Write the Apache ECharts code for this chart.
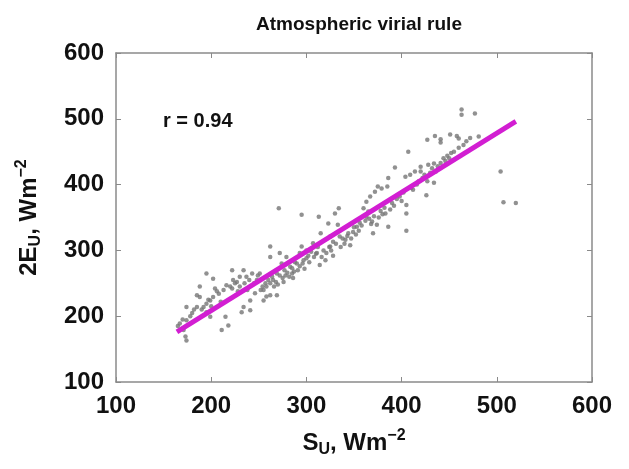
<!DOCTYPE html>
<html>
<head>
<meta charset="utf-8">
<script src="https://cdn.jsdelivr.net/npm/echarts@6/dist/echarts.min.js"></script>
<style>html,body{margin:0;padding:0;background:#fff}#c{width:629px;height:469px}</style>
</head>
<body>
<div id="c"></div>
<script>
// Scatter data: S_U (x) and 2E_U (y), W m^-2
const suX = [165,167,170,171,173,174,174,174,178,180,182,185,185,188,188,190,192,195,195,195,197,199,199,200,
202,202,204,206,208,210,211,213,215,216,218,220,222,222,223,225,227,228,230,230,232,234,234,235,237,238,240,241,241,
243,245,246,248,249,251,252,254,255,255,257,258,258,260,262,262,262,262,264,265,266,268,269,269,270,271,272,272,274,275,276,277,278,279,280,
282,283,285,285,286,287,288,290,291,293,293,295,295,296,297,298,300,300,302,303,305,307,308,310,311,312,313,314,315,316,318,320,
321,323,324,325,325,326,328,328,330,331,333,334,335,336,338,340,341,343,344,346,347,349,350,352,353,355,356,358,360,
362,363,363,365,366,367,368,369,370,371,372,374,375,376,378,379,380,382,383,385,386,386,388,390,392,393,395,398,400,
402,404,405,405,405,407,409,410,412,414,416,418,420,420,422,424,426,427,427,428,430,432,434,434,435,436,438,441,441,441,
444,446,448,450,451,452,455,458,460,460,463,463,465,468,472,477,481,504,507,520];
const eu2Y = [185,189,195,179,169,163,194,214,200,205,210,214,232,229,245,210,214,206,219,265,225,199,224,215,
229,257,242,238,234,222,179,240,199,247,186,245,242,270,255,250,252,238,260,245,206,214,270,250,260,240,255,209,224,
265,250,235,255,262,265,240,245,224,240,250,230,245,255,232,250,290,306,260,255,245,252,232,265,248,364,296,262,280,258,252,270,262,290,266,
260,275,265,273,258,268,282,280,270,296,276,354,306,280,285,272,300,288,292,282,298,311,290,295,296,305,351,278,326,290,300,285,
296,341,305,321,306,300,313,292,356,310,339,364,321,305,318,310,316,322,326,308,318,328,335,324,336,330,342,338,364,
345,374,351,359,348,382,340,344,326,352,389,339,397,350,360,394,355,365,356,397,336,410,362,372,368,426,378,382,375,
388,412,369,356,330,450,415,395,392,420,400,405,427,420,410,415,384,405,468,430,418,425,432,403,474,420,428,469,464,433,
440,436,444,440,476,448,450,474,470,456,514,506,460,466,471,508,473,420,373,372];
// Fitted line end points
const fitX = [164, 520];
const fitY = [176, 496];
const xTicks = [100, 200, 300, 400, 500, 600];
const yTicks = [100, 200, 300, 400, 500, 600];

const pts = suX.map((x, i) => [x, eu2Y[i]]);
const fit = fitX.map((x, i) => [x, fitY[i]]);

const FF = 'Liberation Sans, Arial, sans-serif';
const lab = {fontFamily: FF, fontWeight: 'bold', fontSize: 24, color: '#111'};
const axisLine = {show: true, lineStyle: {color: '#8a8a8a', width: 1.5}};
const tick = {show: true, inside: true, length: 5, lineStyle: {color: '#8a8a8a', width: 1}};
const nameRich = {
  b: {fontFamily: FF, fontWeight: 'bold', fontSize: 24, color: '#111'},
  sub: {fontFamily: FF, fontWeight: 'bold', fontSize: 16, color: '#111', padding: [14, 0, 0, 0]},
  sup: {fontFamily: FF, fontWeight: 'bold', fontSize: 16, color: '#111', padding: [0, 0, 14, 0]}
};

const chart = echarts.init(document.getElementById('c'), null, {renderer: 'canvas'});
chart.setOption({
  animation: false,
  backgroundColor: '#fff',
  title: {
    text: 'Atmospheric virial rule', left: 354, top: 10, textAlign: 'center',
    textStyle: {fontFamily: FF, fontWeight: 'bold', fontSize: 19, color: '#111'}
  },
  grid: {left: 116, right: 37, top: 53, bottom: 87},
  xAxis: [{
    type: 'value', min: xTicks[0], max: xTicks[xTicks.length - 1], interval: 100,
    axisLine, axisTick: tick, splitLine: {show: false},
    axisLabel: Object.assign({margin: 12}, lab),
    name: '{b|S}{sub|U}{b|, Wm}{sup|−2}', nameLocation: 'middle', nameGap: 46,
    nameTextStyle: {rich: nameRich}
  }, {
    type: 'value', position: 'top', min: xTicks[0], max: xTicks[xTicks.length - 1], interval: 100,
    axisLine, axisTick: tick, axisLabel: {show: false}, splitLine: {show: false}
  }],
  yAxis: [{
    type: 'value', min: yTicks[0], max: yTicks[yTicks.length - 1], interval: 100,
    axisLine, axisTick: tick, splitLine: {show: false},
    axisLabel: Object.assign({margin: 12}, lab),
    name: '{b|2E}{sub|U}{b|, Wm}{sup|−2}', nameLocation: 'middle', nameGap: 72, nameRotate: 90,
    nameTextStyle: {rich: nameRich}
  }, {
    type: 'value', position: 'right', min: yTicks[0], max: yTicks[yTicks.length - 1], interval: 100,
    axisLine, axisTick: tick, axisLabel: {show: false}, splitLine: {show: false}
  }],
  graphic: [{
    type: 'text', left: 163, top: 111,
    style: {text: 'r = 0.94', fontFamily: FF, fontWeight: 'bold', fontSize: 20, fill: '#111'}
  }],
  series: [{
    type: 'scatter', data: pts, symbol: 'circle', symbolSize: 4.5,
    itemStyle: {color: '#767676'}, z: 2
  }, {
    type: 'line', data: fit, symbol: 'none',
    lineStyle: {color: '#d21ed2', width: 5}, z: 3
  }]
});
</script>
</body>
</html>
